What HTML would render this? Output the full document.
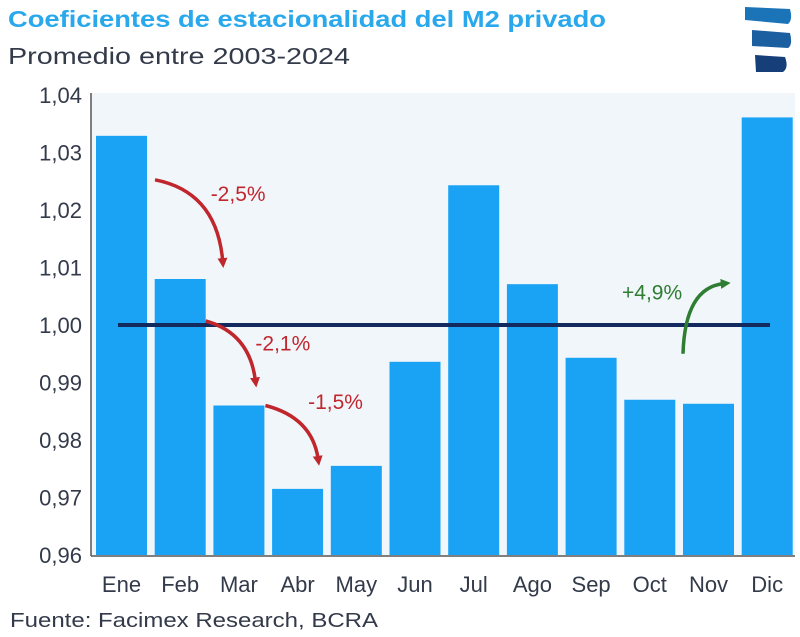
<!DOCTYPE html>
<html><head><meta charset="utf-8"><style>
body{margin:0;background:#fff;width:800px;height:632px;overflow:hidden;font-family:"Liberation Sans",sans-serif;}
svg text{font-family:"Liberation Sans",sans-serif;}
</style></head><body>
<svg id="chart" width="800" height="632" xmlns="http://www.w3.org/2000/svg">
<defs>
<marker id="ahr" markerWidth="10" markerHeight="10" refX="3" refY="5" orient="auto" markerUnits="userSpaceOnUse"><path d="M0,0 L10,5 L0,10 z" fill="#c0272d"/></marker>
<marker id="ahg" markerWidth="10" markerHeight="10" refX="3" refY="5" orient="auto" markerUnits="userSpaceOnUse"><path d="M0,0 L10,5 L0,10 z" fill="#2e7d32"/></marker>
</defs>
<text x="8" y="27" font-size="23" font-weight="bold" fill="#29a8ec" textLength="598" lengthAdjust="spacingAndGlyphs">Coeficientes de estacionalidad del M2 privado</text>
<text x="8" y="64" font-size="23" fill="#333a4a" textLength="342" lengthAdjust="spacingAndGlyphs">Promedio entre 2003-2024</text>
<g>
<path d="M745,7 L790,9 Q793,20 788,24 L745,20 Z" fill="#1b73b8"/>
<path d="M752,30 L790,33 Q793,45 788,48 L752,46 Z" fill="#1b5fa0"/>
<path d="M755,55 L785,57 Q789,68 783,72 L756,72 Z" fill="#163f7a"/>
</g>
<rect x="92" y="93" width="703" height="462" fill="#f1f6fb"/>
<g id="yaxis"></g><g id="bars"></g><g id="xaxis"></g>
<line x1="91" y1="93" x2="91" y2="556" stroke="#555" stroke-width="1.5"/>
<line x1="91" y1="556" x2="795" y2="556" stroke="#555" stroke-width="1.5"/>
<g id="annot"></g>
<text x="10" y="627" font-size="20" fill="#333a4a" textLength="368" lengthAdjust="spacingAndGlyphs">Fuente: Facimex Research, BCRA</text>
</svg>
<script>
const months=["Ene","Feb","Mar","Abr","May","Jun","Jul","Ago","Sep","Oct","Nov","Dic"];
const values=[1.0329,1.0080,0.9860,0.9715,0.9755,0.9936,1.0243,1.0071,0.9943,0.9870,0.9863,1.0361];
const yTicks=[0.96,0.97,0.98,0.99,1.00,1.01,1.02,1.03,1.04];
const yTickLabels=["0,96","0,97","0,98","0,99","1,00","1,01","1,02","1,03","1,04"];
const changes=[{from:0,to:1,label:"-2,5%"},{from:1,to:2,label:"-2,1%"},{from:2,to:3,label:"-1,5%"}];
const gainLabel="+4,9%";
const NS="http://www.w3.org/2000/svg";
const y0=555,yTop=95,vMin=0.96,vMax=1.04;
function y(v){return y0-(v-vMin)/(vMax-vMin)*(y0-yTop);}
const x0=92,step=58.7,bw=51;
function xl(i){return x0+4+i*step;}
function mk(tag,attrs,parent){const e=document.createElementNS(NS,tag);for(const k in attrs)e.setAttribute(k,attrs[k]);parent.appendChild(e);return e;}
const ya=document.getElementById('yaxis'),bg=document.getElementById('bars'),xa=document.getElementById('xaxis'),an=document.getElementById('annot');
yTicks.forEach((t,i)=>{const e=mk('text',{x:82,y:y(t)+8,'font-size':22,'text-anchor':'end',fill:'#333a4a'},ya);e.textContent=yTickLabels[i];

});
values.forEach((v,i)=>{const r=mk('rect',{x:xl(i),y:y(v),width:bw,height:y0-y(v),fill:'#1aa3f5'},bg);


const t=mk('text',{x:xl(i)+bw/2,y:592,'font-size':22,'text-anchor':'middle',fill:'#333a4a'},xa);t.textContent=months[i];

});
const bl=mk('line',{x1:118,y1:y(1),x2:770,y2:y(1),stroke:'#132a5e','stroke-width':4},an);


const sOff=[[8,44],[0,-4],[1,0]],eOff=[[17,-18],[-9,-25],[-5,-30]],lOff=[[-12,-60],[0,-30],[-10,-50]];
changes.forEach((c,k)=>{
const xs=xl(c.from)+bw+sOff[k][0];
const ys=(k==1?y(1):y(values[c.from]))+sOff[k][1];
const xe=xl(c.to)+bw+eOff[k][0];
const ye=y(values[c.to])+eOff[k][1];
const p=mk('path',{d:`M${xs},${ys} Q${xe-6},${ys+12} ${xe},${ye}`,fill:'none',stroke:'#c0272d','stroke-width':3.5,'marker-end':'url(#ahr)'},an);


const t=mk('text',{x:xe+lOff[k][0],y:ye+lOff[k][1],'font-size':21,fill:'#c0272d'},an);t.textContent=c.label;

});
const gx=xl(10)+bw-51, gxe=xl(11)-18;
const gp=mk('path',{d:`M${gx},${y(0.9950)} Q${gx+2},${y(1.0065)} ${gxe},${y(1.0072)}`,fill:'none',stroke:'#2e7d32','stroke-width':3.5,'marker-end':'url(#ahg)'},an);


const gt=mk('text',{x:gx-61,y:y(1.0044),'font-size':21,fill:'#2e7d32'},an);gt.textContent=gainLabel;


</script>
</body></html>
